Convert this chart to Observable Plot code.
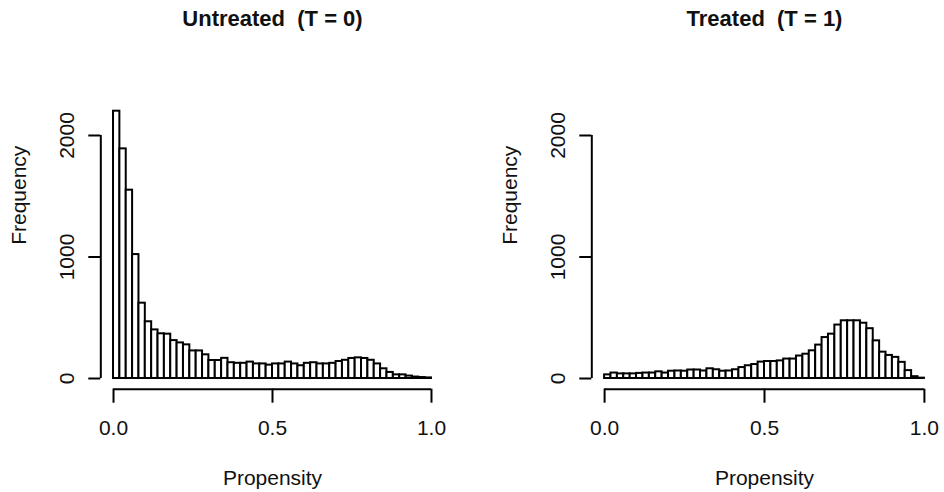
<!DOCTYPE html>
<html>
<head>
<meta charset="utf-8">
<script src="https://cdn.jsdelivr.net/npm/d3@7"></script>
<script src="https://cdn.jsdelivr.net/npm/@observablehq/plot@0.6"></script>
<style>
  html, body { margin: 0; padding: 0; background: #fff; }
  #row { display: flex; flex-direction: row; width: 944px; height: 492px; }
</style>
</head>
<body>
<div id="row"></div>
<script>
// ---- data ----
const binWidth = 0.02;            // histogram bin width (propensity)
const untreatedCounts = [
  2200, 1890, 1550, 1020, 620, 467, 400, 368, 365, 312,
  293, 277, 227, 227, 195, 148, 148, 166, 130, 125,
  125, 135, 120, 120, 110, 120, 120, 135, 120, 105,
  125, 130, 120, 120, 125, 140, 150, 165, 170, 165,
  150, 120, 80, 50, 30, 30, 20, 12, 8, 5
];
const treatedCounts = [
  30, 45, 38, 38, 38, 42, 45, 45, 55, 45,
  60, 62, 60, 70, 70, 62, 80, 72, 60, 62,
  72, 90, 105, 115, 135, 140, 140, 145, 160, 160,
  185, 200, 228, 275, 337, 365, 440, 475, 475, 475,
  455, 410, 310, 217, 190, 174, 133, 65, 15, 3
];
const xTicks = [0, 0.5, 1];
const yTicks = [0, 1000, 2000];
const titles = ["Untreated  (T = 0)", "Treated  (T = 1)"];
const xLabel = "Propensity";
const yLabel = "Frequency";

// R-style plot region: 4% expansion of the data range
const xDomain = [-0.04, 1.04];
const yDomain = [-88, 2288];

const font = "'Liberation Sans', Arial, Helvetica, sans-serif";

function panel(title, counts, marginLeft, marginRight) {
  const bins = counts.map((c, i) => ({x1: i * binWidth, x2: (i + 1) * binWidth, count: c}));
  return Plot.plot({
    width: 472,
    height: 492,
    marginTop: 100,
    marginBottom: 103.3,
    marginLeft,
    marginRight,
    x: {domain: xDomain},
    y: {domain: yDomain},
    style: {fontFamily: font, background: "#fff", color: "#111", overflow: "visible"},
    marks: [
      Plot.rectY(bins, {x1: "x1", x2: "x2", y1: 0, y2: "count", fill: "#fff", stroke: "#000", strokeWidth: 2}),
      // x axis (R style: line from first to last tick, offset below)
      Plot.ruleY([yDomain[0]], {x1: () => d3.min(xTicks), x2: () => d3.max(xTicks), stroke: "#000", strokeWidth: 2}),
      Plot.axisX(xTicks, {tickSize: 14, tickPadding: 17, tickFormat: d3.format(".1f"), fontSize: 21, label: null, strokeWidth: 2, stroke: "#000", fill: "#111"}),
      // y axis
      Plot.ruleX([xDomain[0]], {y1: () => d3.min(yTicks), y2: () => d3.max(yTicks), stroke: "#000", strokeWidth: 2}),
      Plot.axisY(yTicks, {tickSize: 12, tickFormat: () => "", label: null, strokeWidth: 2, stroke: "#000"}),
      Plot.text(yTicks, {y: d => d, text: d => String(d), frameAnchor: "left", dx: -34, rotate: -90, fontSize: 21, fill: "#111", textAnchor: "middle", lineAnchor: "middle"}),
      // titles & labels
      Plot.text([title], {frameAnchor: "top", dy: -82, fontSize: 22, fontWeight: "bold", fill: "#111", lineAnchor: "middle"}),
      Plot.text([xLabel], {frameAnchor: "bottom", dy: 89, fontSize: 21, fill: "#111", lineAnchor: "middle"}),
      Plot.text([yLabel], {frameAnchor: "left", dx: -82, rotate: -90, fontSize: 21, fill: "#111", lineAnchor: "middle"})
    ]
  });
}

const row = document.getElementById("row");
row.append(panel(titles[0], untreatedCounts, 100.3, 28.3));
row.append(panel(titles[1], treatedCounts, 119.3, 7.3));
</script>
</body>
</html>
